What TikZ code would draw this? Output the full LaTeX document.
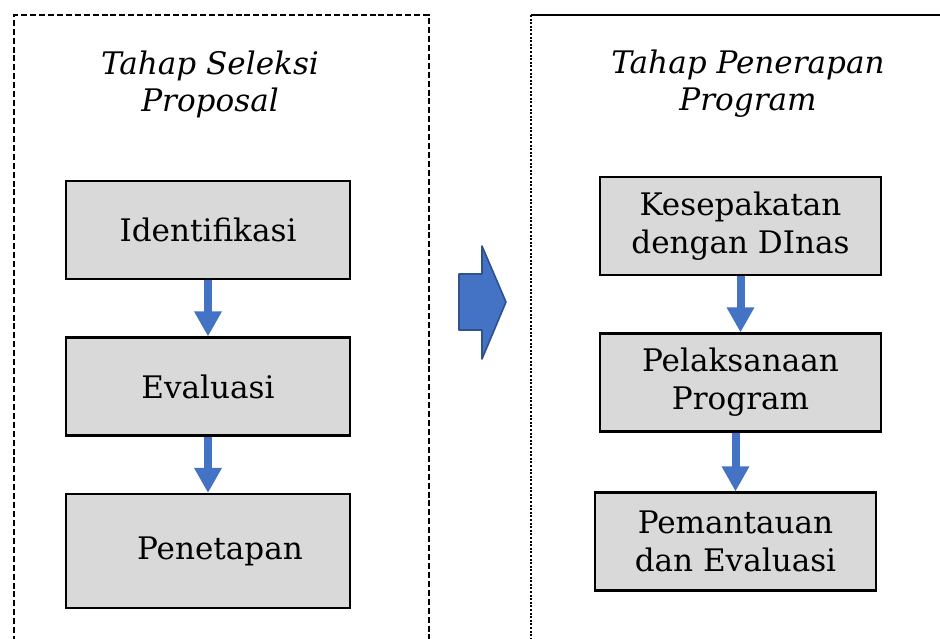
\documentclass[tikz,border=0pt]{standalone}
\usepackage{fontspec}
\setmainfont{DejaVu Serif}
\usetikzlibrary{arrows.meta}
\definecolor{boxgray}{HTML}{D9D9D9}
\definecolor{flowblue}{HTML}{4472C4}
\definecolor{flowedge}{HTML}{2F528F}
\tikzset{
  stepbox/.style={draw=black, line width=1.6pt, fill=boxgray, minimum width=213pt,
    minimum height=73.5pt, align=center, font=\fontsize{23.3}{28.5}\selectfont},
  phasetitle/.style={align=center, font=\fontsize{23.3}{27.75}\selectfont\itshape},
  flow/.style={draw=flowblue, line width=6pt, -{Triangle[width=19.5pt,length=18.75pt]}},
}
\begin{document}
\begin{tikzpicture}[x=0.75pt,y=-0.75pt]
    \useasboundingbox (0,0) rectangle (940,639);
    \clip (0,0) rectangle (940,639);
    % phase frames
    \draw[line width=1.5pt, dash pattern=on 4.5pt off 2.2pt] (14,660) -- (14,15) -- (429,15) -- (429,660);
    \draw[line width=1.5pt] (531,15) -- (960,15);
    \draw[line width=1.5pt, dash pattern=on 1.5pt off 1.2pt] (531,15) -- (531,660);
    \node[phasetitle] (selTitle) at (210,84) {Tahap Seleksi\\Proposal};
    \node[phasetitle] (impTitle) at (748,84) {Tahap Penerapan\\Program};
    % left column
    \node[stepbox] (ident) at (208,230) {Identifikasi};
    \node[stepbox] (eval) at (208,386.5) {Evaluasi};
    \node[stepbox, minimum height=85.5pt] (penet) at (208,551) {\hspace*{18pt}Penetapan};
    \draw[flow] (ident) -- (eval);
    \draw[flow] (eval) -- (penet);
    % right column
    \node[stepbox, minimum width=211pt] (kesep) at (740.5,226) {Kesepakatan\\dengan DInas};
    \node[stepbox, minimum width=211pt] (pelak) at (740.5,382.5) {Pelaksanaan\\Program};
    \node[stepbox, minimum width=211pt] (peman) at (735.5,541.5) {Pemantauan\\dan Evaluasi};
    \draw[flow] (kesep.south) -- (pelak.north);
    \draw[flow] (pelak.south -| peman.north) -- (peman.north);
    % block arrow between phases
    \draw[fill=flowblue, draw=flowedge, line width=1.2pt, line join=round]
      (459,274) -- (482,274) -- (482,246) -- (506,302) -- (482,359) -- (482,330) -- (459,330) -- cycle;
\end{tikzpicture}
\end{document}
